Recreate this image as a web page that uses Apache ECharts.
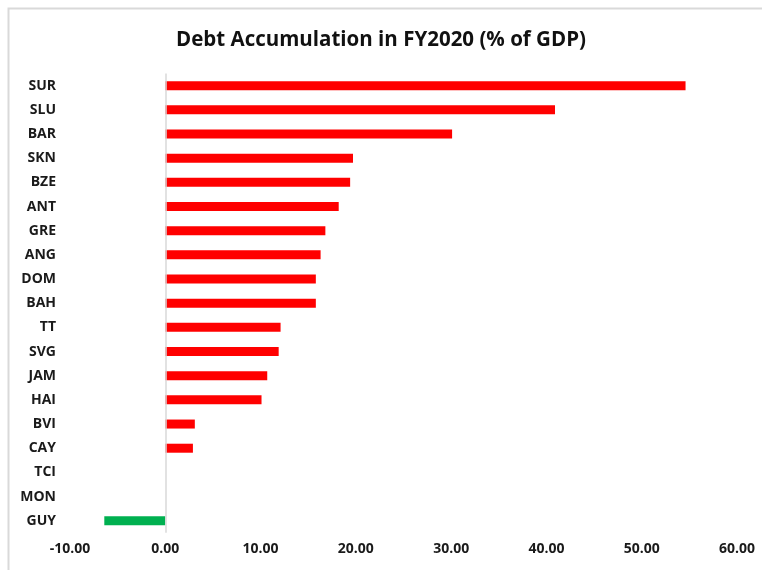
<!DOCTYPE html>
<html>
<head>
<meta charset="utf-8">
<script src="https://cdn.jsdelivr.net/npm/echarts@6/dist/echarts.min.js"></script>
<style>
  html, body { margin: 0; padding: 0; background: #ffffff; }
  #chart { width: 762px; height: 570px; }
</style>
</head>
<body>
<div id="chart"></div>
<script>
// Debt accumulation in FY2020, % of GDP, by economy (top to bottom)
var countries = ['SUR', 'SLU', 'BAR', 'SKN', 'BZE', 'ANT', 'GRE', 'ANG', 'DOM', 'BAH',
                 'TT', 'SVG', 'JAM', 'HAI', 'BVI', 'CAY', 'TCI', 'MON', 'GUY'];
var debtChange = [54.6, 40.9, 30.1, 19.7, 19.4, 18.2, 16.8, 16.3, 15.8, 15.8,
                  12.1, 11.9, 10.7, 10.1, 3.1, 2.9, 0, 0, -6.4];
var axisTicks = { min: -10, max: 60, step: 10 };

var POS_COLOR = '#ff0000';
var NEG_COLOR = '#00b050';
var FONT = '"Open Sans", "Liberation Sans", sans-serif';

var chart = echarts.init(document.getElementById('chart'), null, { renderer: 'canvas' });

chart.setOption({
  animation: false,
  backgroundColor: '#ffffff',
  title: {
    text: 'Debt Accumulation in FY2020 (% of GDP)',
    left: 'center',
    top: 25,
    textStyle: { fontFamily: FONT, fontSize: 20.5, fontWeight: 'bold', color: '#111111' }
  },
  graphic: [{
    type: 'polyline',
    shape: { points: [[8.5, 572], [8.5, 8.5], [770, 8.5]] },
    style: { stroke: '#d9d9d9', lineWidth: 2, fill: null },
    silent: true
  }],
  grid: { left: 70, right: 25, top: 73.6, bottom: 37.2, containLabel: false },
  xAxis: {
    type: 'value',
    min: axisTicks.min,
    max: axisTicks.max,
    interval: axisTicks.step,
    axisLine: { show: false },
    axisTick: { show: false },
    splitLine: { show: false },
    axisLabel: {
      margin: 9,
      fontFamily: FONT,
      fontSize: 14,
      fontWeight: 'bold',
      color: '#1a1a1a',
      formatter: function (v) { return v.toFixed(2); }
    }
  },
  yAxis: {
    type: 'category',
    data: countries,
    inverse: true,
    axisLine: { show: false, onZero: false },
    axisTick: { show: false },
    splitLine: { show: false },
    axisLabel: {
      margin: 14,
      fontFamily: FONT,
      fontSize: 14,
      fontWeight: 'bold',
      color: '#1a1a1a'
    }
  },
  series: [{
    type: 'bar',
    barWidth: 9,
    data: debtChange.map(function (v) {
      return { value: v, itemStyle: { color: v < 0 ? NEG_COLOR : POS_COLOR } };
    }),
    markLine: {
      silent: true,
      symbol: 'none',
      label: { show: false },
      lineStyle: { color: '#d9d9d9', width: 1.5, type: 'solid' },
      data: [{ xAxis: 0 }]
    }
  }]
});
</script>
</body>
</html>
